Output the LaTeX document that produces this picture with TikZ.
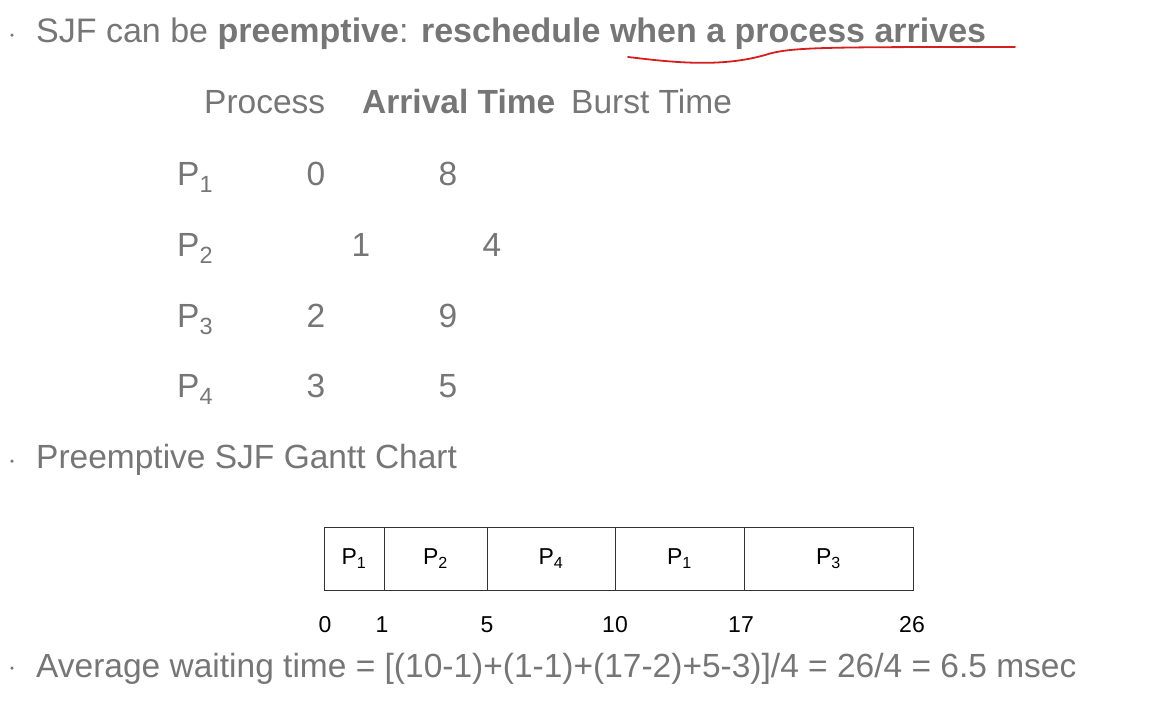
\documentclass[tikz,border=0pt]{standalone}
\usepackage{fontspec}
\setmainfont{Liberation Sans}
\definecolor{tgray}{RGB}{118,118,118}
\definecolor{ulred}{RGB}{215,30,30}
\begin{document}
\begin{tikzpicture}[x=1pt,y=-1pt,
  txt/.style={text=tgray, inner sep=0pt, anchor=base west, font=\fontsize{33.5}{36}\selectfont},
  num/.style={text=tgray, inner sep=0pt, anchor=base, font=\fontsize{33.5}{36}\selectfont},
  dot/.style={circle, fill=tgray, inner sep=0pt, minimum size=3.5pt},
  cell/.style={draw=black!80, line width=0.8pt, inner sep=0pt, minimum height=63pt, font=\fontsize{23}{25}\selectfont},
  tick/.style={inner sep=0pt, anchor=base, font=\fontsize{23}{25}\selectfont}]
\path[use as bounding box] (0,0) rectangle (1154,712);
% bullets
\node[dot] (b1) at (12,35) {};
\node[dot] (b2) at (12,461) {};
\node[dot] (b3) at (12,668) {};
% title line
\node[txt, font=\fontsize{34}{36}\selectfont] (t1) at (36,42) {SJF can be \textbf{preemptive}: \textbf{reschedule when a process arrives}};
\draw[ulred, line width=1.8pt, line cap=round] (628,57) .. controls (670,62) and (720,68) .. (765,55) .. controls (790,47) and (820,47) .. (1015,47);
% table header
\node[txt] (h1) at (204,113) {Process};
\node[txt] (h2) at (362,113) {\textbf{Arrival Time}};
\node[txt] (h3) at (571,113) {Burst Time};
% rows
\node[txt] (p1) at (177,185) {P\textsubscript{1}};
\node[num] (a1) at (316,185) {0};
\node[num] (s1) at (448,185) {8};
\node[txt] (p2) at (177,256) {P\textsubscript{2}};
\node[num] (a2) at (361,256) {1};
\node[num] (s2) at (492,256) {4};
\node[txt] (p3) at (177,327) {P\textsubscript{3}};
\node[num] (a3) at (316,327) {2};
\node[num] (s3) at (448,327) {9};
\node[txt] (p4) at (177,397) {P\textsubscript{4}};
\node[num] (a4) at (316,397) {3};
\node[num] (s4) at (448,397) {5};
% gantt heading
\node[txt] (g) at (36,468) {Preemptive SJF Gantt Chart};
% gantt cells
\node[cell, minimum width=60pt] (c1) at (354,558.5) {P\textsubscript{1}};
\node[cell, minimum width=103pt] (c2) at (435.5,558.5) {P\textsubscript{2}};
\node[cell, minimum width=128pt] (c3) at (551,558.5) {P\textsubscript{4}};
\node[cell, minimum width=129pt] (c4) at (679.5,558.5) {P\textsubscript{1}};
\node[cell, minimum width=169pt] (c5) at (828.5,558.5) {P\textsubscript{3}};
% ticks
\node[tick] (k0) at (325,632) {0};
\node[tick] (k1) at (382,632) {1};
\node[tick] (k5) at (487,632) {5};
\node[tick] (k10) at (615,632) {10};
\node[tick] (k17) at (741,632) {17};
\node[tick] (k26) at (912,632) {26};
% average
\node[txt] (avg) at (36,677) {Average waiting time = [(10-1)+(1-1)+(17-2)+5-3)]/4 = 26/4 = 6.5 msec};
\end{tikzpicture}
\end{document}
